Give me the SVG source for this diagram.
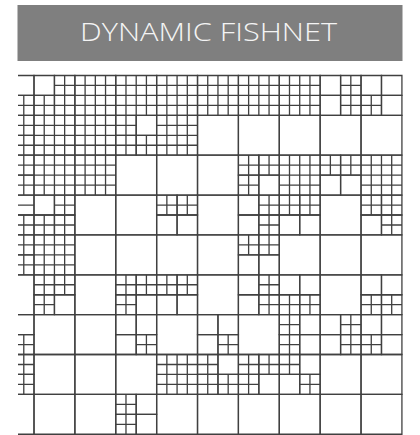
<svg xmlns="http://www.w3.org/2000/svg" xmlns:xlink="http://www.w3.org/1999/xlink" width="420" height="435" viewBox="0 0 420 435">
<style>
.c{fill:none;stroke:#404040;stroke-width:1.3;vector-effect:non-scaling-stroke}
.title{font-family:"Open Sans","Liberation Sans",sans-serif;font-weight:300;font-size:25px;fill:#f4f4f4}
</style>
<defs>
<path id="W4" class="c" d="M0,0H4V4H0Z"/>
<path id="F4" class="c" d="M0,0H4V4H0Z M1,0V4 M2,0V4 M3,0V4 M0,1H4 M0,2H4 M0,3H4"/>
<path id="w2" class="c" d="M0,0H2V2H0Z"/>
<path id="f2" class="c" d="M0,0H2V2H0Z M1,0V2 M0,1H2"/>
<path id="h2" class="c" d="M0,0H2V2H0Z M0,1H2"/>
<clipPath id="clip"><rect x="18" y="73" width="386" height="362"/></clipPath>
</defs>
<rect width="420" height="435" fill="#ffffff"/>
<g id="title">
<rect x="17.5" y="5" width="385" height="56" fill="#7f7f7f"/>
<text class="title" x="208.5" y="41" text-anchor="middle" textLength="257" lengthAdjust="spacingAndGlyphs">DYNAMIC FISHNET</text>
</g>
<g id="fishnet" clip-path="url(#clip)">
<g transform="translate(34,75.5) scale(10.22,9.965)">
<!-- row 1 -->
<use href="#w2" x="-2" y="0"/><use href="#f2" x="-2" y="2"/>
<use href="#w2" x="0" y="0"/><use href="#f2" x="2" y="0"/><use href="#f2" x="0" y="2"/><use href="#f2" x="2" y="2"/>
<use href="#F4" x="4" y="0"/><use href="#F4" x="8" y="0"/><use href="#F4" x="12" y="0"/><use href="#F4" x="16" y="0"/><use href="#F4" x="20" y="0"/><use href="#F4" x="24" y="0"/>
<use href="#w2" x="28" y="0"/><use href="#f2" x="30" y="0"/><use href="#w2" x="28" y="2"/><use href="#f2" x="30" y="2"/>
<use href="#w2" x="32" y="0"/><use href="#w2" x="34" y="0"/><use href="#f2" x="32" y="2"/><use href="#w2" x="34" y="2"/>
<!-- row 2 -->
<use href="#f2" x="-2" y="4"/><use href="#f2" x="-2" y="6"/>
<use href="#F4" x="0" y="4"/><use href="#F4" x="4" y="4"/>
<use href="#f2" x="8" y="4"/><use href="#w2" x="10" y="4"/><use href="#f2" x="8" y="6"/><use href="#f2" x="10" y="6"/>
<use href="#F4" x="12" y="4"/>
<use href="#W4" x="16" y="4"/><use href="#W4" x="20" y="4"/><use href="#W4" x="24" y="4"/><use href="#W4" x="28" y="4"/><use href="#W4" x="32" y="4"/>
<!-- row 3 -->
<use href="#f2" x="-2" y="8"/><use href="#f2" x="-2" y="10"/>
<use href="#F4" x="0" y="8"/><use href="#F4" x="4" y="8"/>
<use href="#W4" x="8" y="8"/><use href="#W4" x="12" y="8"/><use href="#W4" x="16" y="8"/>
<use href="#f2" x="20" y="8"/><use href="#f2" x="22" y="8"/><use href="#f2" x="20" y="10"/><use href="#w2" x="22" y="10"/>
<use href="#F4" x="24" y="8"/>
<use href="#f2" x="28" y="8"/><use href="#f2" x="30" y="8"/><use href="#w2" x="28" y="10"/><use href="#w2" x="30" y="10"/>
<use href="#F4" x="32" y="8"/>
<!-- row 4 -->
<use href="#h2" x="-2" y="12"/><use href="#f2" x="-2" y="14"/>
<use href="#w2" x="0" y="12"/><use href="#f2" x="2" y="12"/><use href="#f2" x="0" y="14"/><use href="#f2" x="2" y="14"/>
<use href="#W4" x="4" y="12"/><use href="#W4" x="8" y="12"/>
<use href="#f2" x="12" y="12"/><use href="#f2" x="14" y="12"/><use href="#w2" x="12" y="14"/><use href="#w2" x="14" y="14"/>
<use href="#W4" x="16" y="12"/>
<use href="#w2" x="20" y="12"/><use href="#f2" x="22" y="12"/><use href="#w2" x="20" y="14"/><use href="#f2" x="22" y="14"/>
<use href="#f2" x="24" y="12"/><use href="#f2" x="26" y="12"/><use href="#w2" x="24" y="14"/><use href="#w2" x="26" y="14"/>
<use href="#W4" x="28" y="12"/>
<use href="#f2" x="32" y="12"/><use href="#f2" x="34" y="12"/><use href="#w2" x="32" y="14"/><use href="#f2" x="34" y="14"/>
<!-- row 5 -->
<use href="#f2" x="-2" y="16"/><use href="#f2" x="-2" y="18"/>
<use href="#F4" x="0" y="16"/>
<use href="#W4" x="4" y="16"/><use href="#W4" x="8" y="16"/><use href="#W4" x="12" y="16"/><use href="#W4" x="16" y="16"/>
<use href="#f2" x="20" y="16"/><use href="#f2" x="22" y="16"/><use href="#w2" x="20" y="18"/><use href="#w2" x="22" y="18"/>
<use href="#W4" x="24" y="16"/><use href="#W4" x="28" y="16"/><use href="#W4" x="32" y="16"/>
<!-- row 6 -->
<use href="#W4" x="-4" y="20"/>
<use href="#f2" x="0" y="20"/><use href="#f2" x="2" y="20"/><use href="#f2" x="0" y="22"/><use href="#w2" x="2" y="22"/>
<use href="#W4" x="4" y="20"/>
<use href="#f2" x="8" y="20"/><use href="#f2" x="10" y="20"/><use href="#f2" x="8" y="22"/><use href="#w2" x="10" y="22"/>
<use href="#f2" x="12" y="20"/><use href="#f2" x="14" y="20"/><use href="#w2" x="12" y="22"/><use href="#w2" x="14" y="22"/>
<use href="#W4" x="16" y="20"/>
<use href="#w2" x="20" y="20"/><use href="#f2" x="22" y="20"/><use href="#w2" x="20" y="22"/><use href="#f2" x="22" y="22"/>
<use href="#w2" x="24" y="20"/><use href="#w2" x="26" y="20"/><use href="#f2" x="24" y="22"/><use href="#f2" x="26" y="22"/>
<use href="#W4" x="28" y="20"/>
<use href="#w2" x="32" y="20"/><use href="#w2" x="34" y="20"/><use href="#f2" x="32" y="22"/><use href="#f2" x="34" y="22"/>
<!-- row 7 -->
<use href="#w2" x="-2" y="24"/><use href="#f2" x="-2" y="26"/>
<use href="#W4" x="0" y="24"/><use href="#W4" x="4" y="24"/>
<use href="#w2" x="8" y="24"/><use href="#w2" x="10" y="24"/><use href="#w2" x="8" y="26"/><use href="#f2" x="10" y="26"/>
<use href="#W4" x="12" y="24"/>
<use href="#w2" x="16" y="24"/><use href="#w2" x="18" y="24"/><use href="#w2" x="16" y="26"/><use href="#f2" x="18" y="26"/>
<use href="#W4" x="20" y="24"/>
<use href="#f2" x="24" y="24"/><use href="#w2" x="26" y="24"/><use href="#f2" x="24" y="26"/><use href="#w2" x="26" y="26"/>
<use href="#w2" x="28" y="24"/><use href="#f2" x="30" y="24"/><use href="#w2" x="28" y="26"/><use href="#f2" x="30" y="26"/>
<use href="#w2" x="32" y="24"/><use href="#w2" x="34" y="24"/><use href="#f2" x="32" y="26"/><use href="#w2" x="34" y="26"/>
<!-- row 8 -->
<use href="#f2" x="-2" y="28"/><use href="#f2" x="-2" y="30"/>
<use href="#W4" x="0" y="28"/><use href="#W4" x="4" y="28"/><use href="#W4" x="8" y="28"/>
<use href="#F4" x="12" y="28"/>
<use href="#f2" x="16" y="28"/><use href="#w2" x="18" y="28"/><use href="#f2" x="16" y="30"/><use href="#f2" x="18" y="30"/>
<use href="#f2" x="20" y="28"/><use href="#f2" x="22" y="28"/><use href="#f2" x="20" y="30"/><use href="#w2" x="22" y="30"/>
<use href="#f2" x="24" y="28"/><use href="#w2" x="26" y="28"/><use href="#w2" x="24" y="30"/><use href="#f2" x="26" y="30"/>
<use href="#W4" x="28" y="28"/><use href="#W4" x="32" y="28"/>
<!-- row 9 -->
<use href="#W4" x="-4" y="32"/><use href="#W4" x="0" y="32"/><use href="#W4" x="4" y="32"/>
<use href="#f2" x="8" y="32"/><use href="#w2" x="10" y="32"/><use href="#f2" x="8" y="34"/><use href="#w2" x="10" y="34"/>
<use href="#W4" x="12" y="32"/><use href="#W4" x="16" y="32"/><use href="#W4" x="20" y="32"/><use href="#W4" x="24" y="32"/><use href="#W4" x="28" y="32"/><use href="#W4" x="32" y="32"/>
</g>
</g>
</svg>
